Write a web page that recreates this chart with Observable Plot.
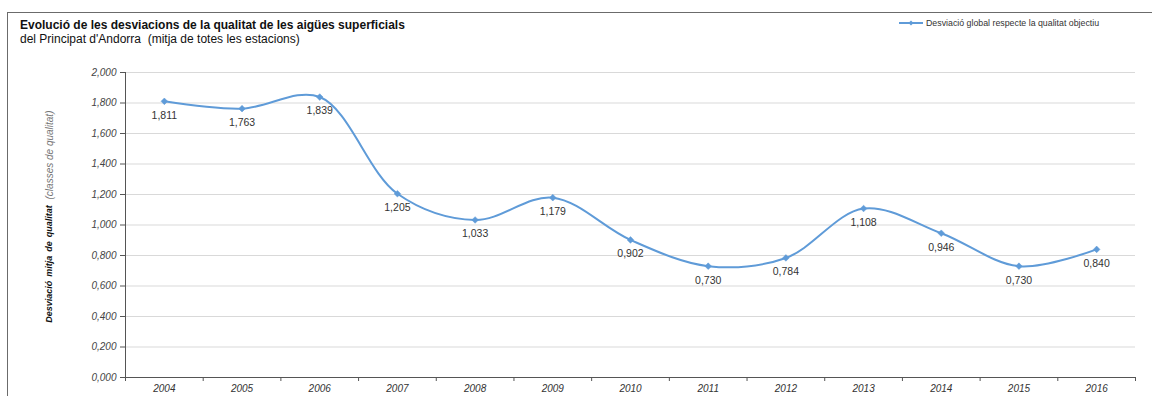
<!DOCTYPE html>
<html><head><meta charset="utf-8">
<script src="https://cdn.jsdelivr.net/npm/d3@7"></script>
<script src="https://cdn.jsdelivr.net/npm/@observablehq/plot@0.6"></script>
<style>
body{margin:0;background:#fff;font-family:"Liberation Sans",Arial,sans-serif;}
#wrap{position:relative;width:1152px;height:396px;overflow:hidden;}
#border{position:absolute;left:7px;top:12px;right:-2px;bottom:-2px;border-left:1px solid #6b6b6b;border-top:1px solid #6b6b6b;}
#title{position:absolute;left:20px;top:18px;font-size:12px;font-weight:bold;color:#111;white-space:nowrap;}
#subtitle{position:absolute;left:20px;top:32px;font-size:12px;color:#111;white-space:nowrap;}
#legend{position:absolute;left:898px;top:18px;font-size:8.8px;color:#333;white-space:nowrap;display:flex;align-items:center;}
#plot{position:absolute;left:0;top:0;}
#ylab{position:absolute;left:0;top:0;}
</style></head>
<body><div id="wrap">
<div id="border"></div>
<div id="title">Evolució de les desviacions de la qualitat de les aigües superficials</div>
<div id="subtitle">del Principat d'Andorra&nbsp; (mitja de totes les estacions)</div>
<div id="legend"><svg width="26" height="8"><line x1="1" y1="4" x2="25" y2="4" stroke="#5f9bd8" stroke-width="2"/><path d="M13 1.5 L15.5 4 L13 6.5 L10.5 4Z" fill="#5f9bd8"/></svg><span style="margin-left:2px">Desviació global respecte la qualitat objectiu</span></div>
<svg id="ylab" width="100" height="396" style="font-family:'Liberation Sans',Arial,sans-serif">
  <text transform="translate(50,264) rotate(-90)" text-anchor="middle" dominant-baseline="middle" font-size="9" font-weight="bold" font-style="italic" fill="#111" style="word-spacing:1.5px">Desviació mitja de qualitat</text>
  <text transform="translate(50,155) rotate(-90)" text-anchor="middle" dominant-baseline="middle" font-size="10" font-style="italic" fill="#777">(classes de qualitat)</text>
</svg>
<div id="plot"></div>
</div>
<script>
const years = [2004,2005,2006,2007,2008,2009,2010,2011,2012,2013,2014,2015,2016];
const values = [1.811,1.763,1.839,1.205,1.033,1.179,0.902,0.730,0.784,1.108,0.946,0.730,0.840];
const yTicks = [0,0.2,0.4,0.6,0.8,1.0,1.2,1.4,1.6,1.8,2.0];
const seriesName = "Desviació global respecte la qualitat objectiu";

const data = years.map((y,i)=>({year:y, value:values[i]}));
const fmt = d => d.toFixed(3).replace(".", ",");
const bounds = years.map(y=>y-0.5).concat([years[years.length-1]+0.5]);
const color = "#5f9bd8";

const chart = Plot.plot({
  width:1152, height:396,
  marginLeft:125, marginRight:17, marginTop:72, marginBottom:19,
  style:{fontFamily:"Liberation Sans, Arial, sans-serif", background:"transparent"},
  x:{type:"linear", domain:[bounds[0], bounds[bounds.length-1]]},
  y:{domain:[0,2]},
  marks:[
    Plot.ruleY(yTicks.filter(d=>d>0), {stroke:"#d9d9d9", strokeWidth:1}),
    Plot.axisY({ticks:yTicks, tickFormat:fmt, tickSize:5, tickPadding:4, fontSize:10, fontStyle:"italic", fill:"#444", stroke:"#555", label:null}),
    Plot.axisX({ticks:bounds, tickFormat:()=>"", tickSize:4, stroke:"#555", label:null}),
    Plot.axisX({ticks:years, tickFormat:d=>String(d), tickSize:0, tickPadding:7, fontSize:10, fontStyle:"italic", fill:"#333", label:null}),
    Plot.ruleX([bounds[0]], {stroke:"#555"}),
    Plot.ruleY([0], {stroke:"#555"}),
    Plot.line(data, {x:"year", y:"value", curve:"catmull-rom", stroke:color, strokeWidth:2}),
    Plot.dot(data, {x:"year", y:"value", symbol:"diamond2", r:3, fill:color, stroke:color, strokeWidth:0.5}),
    Plot.text(data, {x:"year", y:"value", text:d=>fmt(d.value), dy:14, fontSize:10.5, fill:"#333"})
  ]
});
document.getElementById("plot").appendChild(chart);
</script>
</body></html>
